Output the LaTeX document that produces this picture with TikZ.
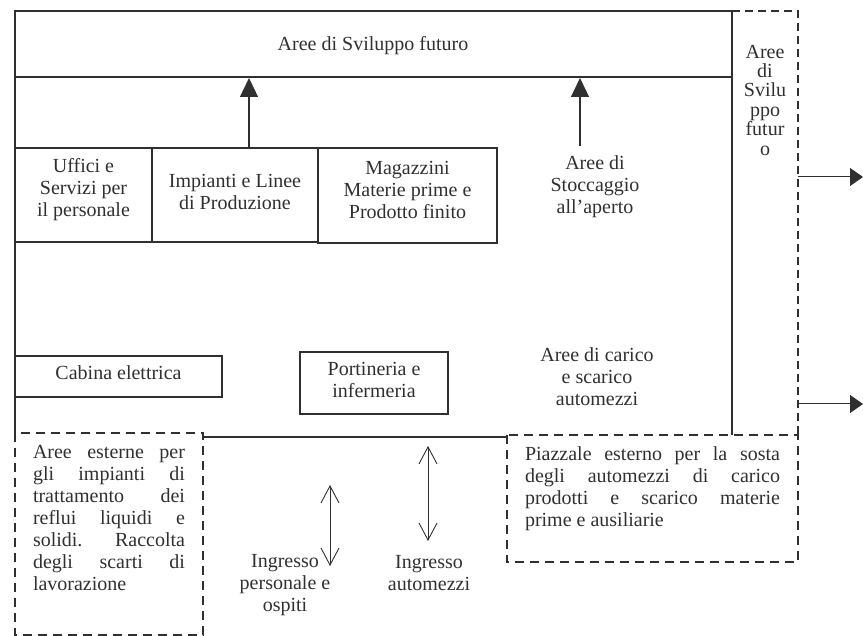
\documentclass[tikz,border=0pt]{standalone}
\usepackage{fontspec}
\setmainfont{Liberation Serif}
\usetikzlibrary{arrows.meta}
\definecolor{ink}{HTML}{303030}

\begin{document}
\begin{tikzpicture}[x=1pt,y=-1pt,
  every node/.style={text=ink, inner sep=0pt, outer sep=0pt,
    font=\fontsize{20}{22}\selectfont},
  wall/.style={draw=ink, line width=1.6pt},
  room/.style={draw=ink, line width=1.3pt},
  zone/.style={draw=ink, line width=2pt, dash pattern=on 9pt off 6pt},
  stripline/.style={draw=ink, line width=1.3pt, dash pattern=on 8pt off 5pt},
  growarrow/.style={draw=ink, line width=1.3pt, -{Triangle[length=19pt,width=18pt]}},
  exitarrow/.style={draw=ink, line width=1pt, -{Triangle[length=13pt,width=18pt]}},
  gate/.style={draw=ink, line width=0.9pt,
    {Straight Barb[length=17pt,width=18pt]}-{Straight Barb[length=17pt,width=18pt]}},
  lbl/.style={align=center}
]
\useasboundingbox (0,0) rectangle (863,636);

% site outline and the band for future development
\draw[wall] (15,433) -- (15,11) -- (732,11) -- (732,435);
\draw[wall] (15,77) -- (732,77);
\draw[wall] (203,437) -- (507,437);

% dashed areas
\draw[stripline] (732,11) -- (798,11) -- (798,435);
\draw[zone] (15,433) rectangle (203,635);
\draw[zone] (507,435) rectangle (798,562);

% buildings
\node[room, minimum width=137pt, minimum height=94pt] (ufficibox) at (83.5,195) {};
\node[room, minimum width=166pt, minimum height=94pt] (impiantibox) at (235,195) {};
\node[room, minimum width=179pt, minimum height=95pt] (magazzinibox) at (407.5,195.5) {};
\node[room, minimum width=207pt, minimum height=41pt] (cabinabox) at (118.5,376.5) {};
\node[room, minimum width=148pt, minimum height=62pt] (portineriabox) at (374,383) {};

% labels
\node (futuro) at (373,46) {Aree di Sviluppo futuro};
\node[lbl, font=\fontsize{20}{19.4}\selectfont] (futurostrip) at (765,100) {Aree\\di\\Svilu\\ppo\\futur\\o};
\node[lbl] (uffici) at (83.5,190) {Uffici e\\Servizi per\\il personale};
\node[lbl] (impianti) at (235,192) {Impianti e Linee\\di Produzione};
\node[lbl] (magazzini) at (407.5,190) {Magazzini\\Materie prime e\\Prodotto finito};
\node[lbl] (stoccaggio) at (595,187) {Aree di\\Stoccaggio\\all’aperto};
\node[lbl] (carico) at (597,377) {Aree di carico\\e scarico\\automezzi};
\node (cabina) at (118.5,373) {Cabina elettrica};
\node[lbl] (portineria) at (374,380) {Portineria e\\infermeria};
\node[lbl] (ingpers) at (285,585) {Ingresso\\personale e\\ospiti};
\node[lbl] (ingauto) at (429,573) {Ingresso\\automezzi};
\node[align=left] (reflui) at (109,518) {%
  \hbox to 152pt{Aree\hfill esterne\hfill per}\\
  \hbox to 152pt{gli\hfill impianti\hfill di}\\
  \hbox to 152pt{trattamento\hfill dei}\\
  \hbox to 152pt{reflui\hfill liquidi\hfill e}\\
  \hbox to 152pt{solidi.\hfill Raccolta}\\
  \hbox to 152pt{degli\hfill scarti\hfill di}\\
  \hbox to 152pt{lavorazione\hfill}};
\node[align=left] (piazzale) at (652.5,488.5) {%
  \hbox to 255pt{Piazzale\hfill esterno\hfill per\hfill la\hfill sosta}\\
  \hbox to 255pt{degli\hfill automezzi\hfill di\hfill carico}\\
  \hbox to 255pt{prodotti\hfill e\hfill scarico\hfill materie}\\
  \hbox to 255pt{prime e ausiliarie\hfill}};

% arrow end points
\coordinate (growAfrom) at (249,148);
\coordinate (growAto) at (249,78);
\coordinate (growBfrom) at (580,146);
\coordinate (growBto) at (580,78);
\coordinate (exitAfrom) at (798,177);
\coordinate (exitAto) at (863,177);
\coordinate (exitBfrom) at (798,404);
\coordinate (exitBto) at (863,404);
\coordinate (gatePtop) at (330,485);
\coordinate (gatePbot) at (330,566);
\coordinate (gateAtop) at (428,446);
\coordinate (gateAbot) at (428,541);

% expansion arrows
\draw[growarrow] (growAfrom) -- (growAto);
\draw[growarrow] (growBfrom) -- (growBto);
\draw[exitarrow] (exitAfrom) -- (exitAto);
\draw[exitarrow] (exitBfrom) -- (exitBto);

% entrances
\draw[gate] (gatePtop) -- (gatePbot);
\draw[gate] (gateAtop) -- (gateAbot);
\end{tikzpicture}
\end{document}
